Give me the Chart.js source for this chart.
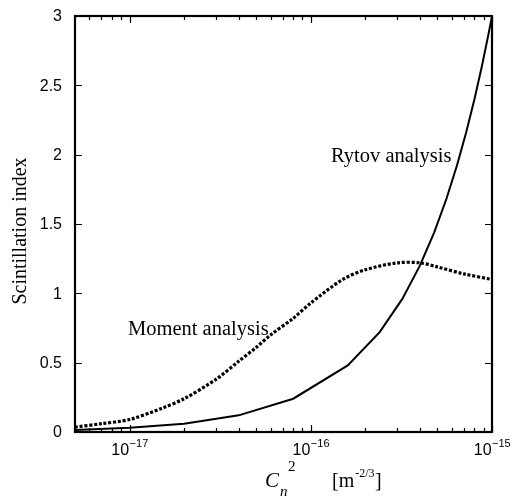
<!DOCTYPE html>
<html>
<head>
<meta charset="utf-8">
<script src="https://cdn.jsdelivr.net/npm/chart.js@4.4.1/dist/chart.umd.min.js"></script>
<style>
  html, body { margin: 0; padding: 0; background: #fff; }
  #wrap { width: 520px; height: 499px; position: relative; }
</style>
</head>
<body>
<div id="wrap"><canvas id="c" width="520" height="499"></canvas></div>
<script>
// ---- data ----
const rytovX = [5e-18, 1e-17, 2e-17, 4e-17, 8e-17, 1.6e-16, 2.4e-16, 3.2e-16, 4e-16, 4.8e-16, 5.6e-16, 6.4e-16, 7.2e-16, 8e-16, 8.8e-16, 9.6e-16, 1e-15];
const rytovY = [0.015, 0.03, 0.06, 0.12, 0.24, 0.48, 0.72, 0.96, 1.2, 1.44, 1.68, 1.92, 2.16, 2.4, 2.64, 2.88, 3.0];

const momentX = [5e-18, 7e-18, 1e-17, 1.5e-17, 2e-17, 3e-17, 4e-17, 5e-17, 6e-17, 8e-17, 1e-16, 1.5e-16, 2e-16, 3e-16, 4e-16, 5e-16, 7e-16, 1e-15];
const momentY = [0.035, 0.06, 0.09, 0.17, 0.24, 0.38, 0.51, 0.61, 0.70, 0.82, 0.93, 1.10, 1.17, 1.22, 1.22, 1.19, 1.14, 1.10];

const xMajorTicks = [1e-17, 1e-16, 1e-15];
const xMajorExp = ['−17', '−16', '−15'];
const xMinorTicks = [6e-18, 7e-18, 8e-18, 9e-18,
  2e-17, 3e-17, 4e-17, 5e-17, 6e-17, 7e-17, 8e-17, 9e-17,
  2e-16, 3e-16, 4e-16, 5e-16, 6e-16, 7e-16, 8e-16, 9e-16];
const yTicks = [0, 0.5, 1, 1.5, 2, 2.5, 3];
const yTickLabels = ['0', '0.5', '1', '1.5', '2', '2.5', '3'];

const toPts = (xs, ys) => xs.map((x, i) => ({ x: x, y: ys[i] }));

const framePlugin = {
  id: 'frame',
  afterDraw(chart) {
    const { ctx, chartArea: a, scales } = chart;
    const xs = scales.x, ys = scales.y;
    ctx.save();
    ctx.strokeStyle = '#000';
    ctx.fillStyle = '#000';
    // ticks
    ctx.lineWidth = 1.2;
    ctx.beginPath();
    xMinorTicks.forEach(v => {
      const px = Math.round(xs.getPixelForValue(v)) + 0.5;
      ctx.moveTo(px, a.bottom); ctx.lineTo(px, a.bottom - 4);
      ctx.moveTo(px, a.top); ctx.lineTo(px, a.top + 4);
    });
    xMajorTicks.forEach(v => {
      const px = Math.round(xs.getPixelForValue(v)) + 0.5;
      ctx.moveTo(px, a.bottom); ctx.lineTo(px, a.bottom - 7);
      ctx.moveTo(px, a.top); ctx.lineTo(px, a.top + 7);
    });
    yTicks.forEach(v => {
      const py = Math.round(ys.getPixelForValue(v)) + 0.5;
      ctx.moveTo(a.left, py); ctx.lineTo(a.left + 7, py);
      ctx.moveTo(a.right, py); ctx.lineTo(a.right - 7, py);
    });
    ctx.stroke();
    // frame
    ctx.lineWidth = 2.2;
    ctx.strokeRect(a.left, a.top, a.right - a.left, a.bottom - a.top);

    // y tick labels
    ctx.textAlign = 'right';
    ctx.textBaseline = 'middle';
    ctx.font = '16px "Liberation Sans", Arial, sans-serif';
    yTicks.forEach((v, i) => {
      ctx.fillText(yTickLabels[i], a.left - 13, ys.getPixelForValue(v) + 1);
    });

    // x tick labels 10^n
    xMajorTicks.forEach((v, i) => {
      const px = xs.getPixelForValue(v);
      ctx.font = '16px "Liberation Sans", Arial, sans-serif';
      const w1 = ctx.measureText('10').width;
      ctx.font = '11px "Liberation Sans", Arial, sans-serif';
      const w2 = ctx.measureText(xMajorExp[i]).width;
      const x0 = px - (w1 + w2) / 2;
      ctx.textBaseline = 'alphabetic';
      ctx.textAlign = 'left';
      ctx.font = '16px "Liberation Sans", Arial, sans-serif';
      ctx.fillText('10', x0, 455);
      ctx.font = '11px "Liberation Sans", Arial, sans-serif';
      ctx.fillText(xMajorExp[i], x0 + w1 + 0.5, 447);
    });

    // x axis title: C_n^2 [m^-2/3]
    ctx.textAlign = 'left';
    ctx.textBaseline = 'alphabetic';
    ctx.font = 'italic 21px "Liberation Serif", "Times New Roman", serif';
    ctx.fillText('C', 265, 487);
    ctx.font = '15px "Liberation Serif", "Times New Roman", serif';
    ctx.fillText('2', 288, 471);
    ctx.font = 'italic 15px "Liberation Serif", "Times New Roman", serif';
    ctx.fillText('n', 280, 496);
    ctx.font = '20px "Liberation Serif", "Times New Roman", serif';
    ctx.fillText('[m', 332, 487);
    let xx = 332 + ctx.measureText('[m').width + 1;
    ctx.font = '12px "Liberation Serif", "Times New Roman", serif';
    ctx.fillText('-2/3', xx, 477);
    xx += ctx.measureText('-2/3').width + 0.5;
    ctx.font = '20px "Liberation Serif", "Times New Roman", serif';
    ctx.fillText(']', xx, 487);

    // y axis title
    ctx.save();
    ctx.translate(26, 231);
    ctx.rotate(-Math.PI / 2);
    ctx.textAlign = 'center';
    ctx.font = '20px "Liberation Serif", "Times New Roman", serif';
    ctx.fillText('Scintillation index', 0, 0);
    ctx.restore();

    // curve annotations
    ctx.textAlign = 'left';
    ctx.font = '20.5px "Liberation Serif", "Times New Roman", serif';
    ctx.fillText('Rytov analysis', 331, 162);
    ctx.fillText('Moment analysis', 128, 335);
    ctx.restore();
  }
};

new Chart(document.getElementById('c'), {
  type: 'line',
  data: {
    datasets: [
      {
        label: 'Moment analysis',
        data: toPts(momentX, momentY),
        borderColor: '#000',
        borderWidth: 3.2,
        borderDash: [3, 1.8],
        borderCapStyle: 'butt',
        pointRadius: 0,
        tension: 0.3,
        fill: false
      },
      {
        label: 'Rytov analysis',
        data: toPts(rytovX, rytovY),
        borderColor: '#000',
        borderWidth: 2,
        pointRadius: 0,
        tension: 0,
        fill: false
      }
    ]
  },
  options: {
    responsive: false,
    animation: false,
    devicePixelRatio: 1,
    layout: { padding: { left: 0, top: 16, right: 28, bottom: 0 } },
    plugins: { legend: { display: false }, tooltip: { enabled: false } },
    scales: {
      x: {
        type: 'logarithmic',
        min: 5e-18,
        max: 1e-15,
        grid: { display: false, drawTicks: false },
        border: { display: false },
        ticks: { display: false },
        afterFit(s) { s.height = 67; }
      },
      y: {
        type: 'linear',
        min: 0,
        max: 3,
        grid: { display: false, drawTicks: false },
        border: { display: false },
        ticks: { display: false, stepSize: 0.5 },
        afterFit(s) { s.width = 75; }
      }
    }
  },
  plugins: [framePlugin]
});
</script>
</body>
</html>
